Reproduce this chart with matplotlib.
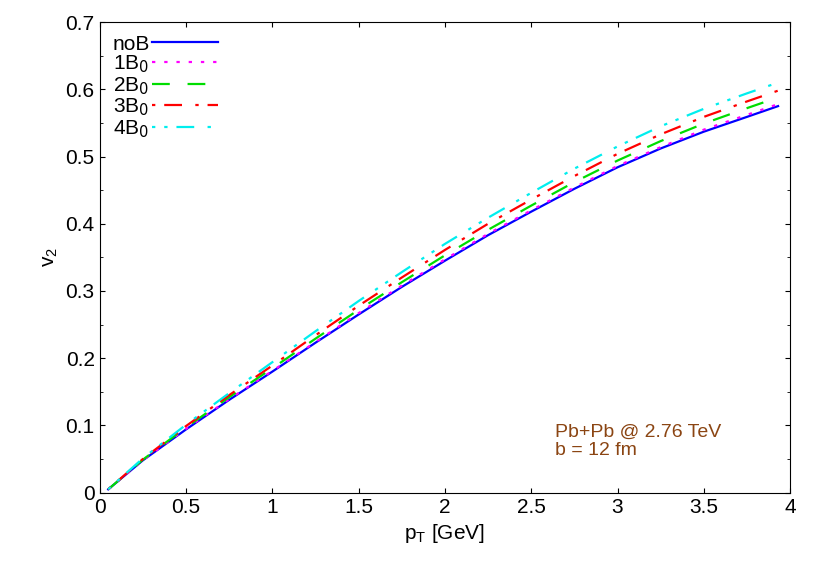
import matplotlib
matplotlib.use("Agg")
import matplotlib.pyplot as plt
from matplotlib.ticker import MultipleLocator

plt.rcParams['font.family'] = ['Liberation Sans', 'DejaVu Sans']

pt = [0.05, 0.25, 0.5, 0.75, 1.0, 1.25, 1.5, 1.75, 2.0, 2.25, 2.5, 2.75, 3.0, 3.25, 3.5, 3.75, 3.93]
noB = [0.005, 0.048, 0.094, 0.138, 0.180, 0.223, 0.265, 0.306, 0.345, 0.383, 0.418, 0.452, 0.484, 0.512, 0.537, 0.559, 0.575]
b1 = [0.005, 0.048, 0.095, 0.139, 0.181, 0.224, 0.267, 0.308, 0.347, 0.385, 0.420, 0.454, 0.486, 0.514, 0.540, 0.562, 0.578]
b2 = [0.005, 0.049, 0.097, 0.142, 0.185, 0.229, 0.272, 0.313, 0.353, 0.391, 0.427, 0.462, 0.494, 0.523, 0.549, 0.572, 0.588]
b3 = [0.005, 0.050, 0.099, 0.145, 0.189, 0.234, 0.278, 0.320, 0.361, 0.400, 0.436, 0.471, 0.504, 0.533, 0.559, 0.582, 0.598]
b4 = [0.005, 0.051, 0.101, 0.148, 0.194, 0.240, 0.285, 0.328, 0.370, 0.409, 0.446, 0.482, 0.515, 0.545, 0.571, 0.594, 0.610]

fig, ax = plt.subplots(figsize=(8.3, 5.81), dpi=100)
fig.subplots_adjust(left=0.12, right=0.952, top=0.962, bottom=0.152)
ax.plot(pt, noB, color="#0000ff", lw=1.6, label="noB")
ax.plot(pt, b1, color="#ff00ff", lw=1.6, ls=(0, (1.5, 4)), label="1B$_0$")
ax.plot(pt, b2, color="#00dd00", lw=1.6, ls=(0, (8, 8)), label="2B$_0$")
ax.plot(pt, b3, color="#ff0000", lw=1.6, ls=(0, (1.5, 4, 8, 6)), label="3B$_0$")
ax.plot(pt, b4, color="#00eeee", lw=1.6, ls=(0, (1.5, 4, 1.5, 4, 8, 6)), label="4B$_0$")
ax.set_xlim(0, 4)
ax.set_ylim(0, 0.7)
ax.set_xticks([0, 0.5, 1, 1.5, 2, 2.5, 3, 3.5, 4])
ax.set_xticklabels(["0", "0.5", "1", "1.5", "2", "2.5", "3", "3.5", "4"])
ax.set_yticks([i / 10 for i in range(8)])
ax.set_yticklabels(["0", "0.1", "0.2", "0.3", "0.4", "0.5", "0.6", "0.7"])
ax.yaxis.set_minor_locator(MultipleLocator(0.05))
ax.tick_params(which="both", direction="in", top=True, right=True, labelsize=15)
ax.set_xlabel("p$_\\mathregular{T}$ [GeV]", fontsize=15)
ax.set_ylabel("v$_\\mathregular{2}$", fontsize=15)
ax.legend(loc="upper left", markerfirst=False, frameon=False, fontsize=15,
          handlelength=3.2, labelspacing=0.0, borderaxespad=0.2, handletextpad=0.1)
ax.text(0.66, 0.08, "Pb+Pb @ 2.76 TeV\nb = 12 fm", transform=ax.transAxes,
        color="#8b4513", fontsize=14, linespacing=1.1)
fig.savefig("out.png")
